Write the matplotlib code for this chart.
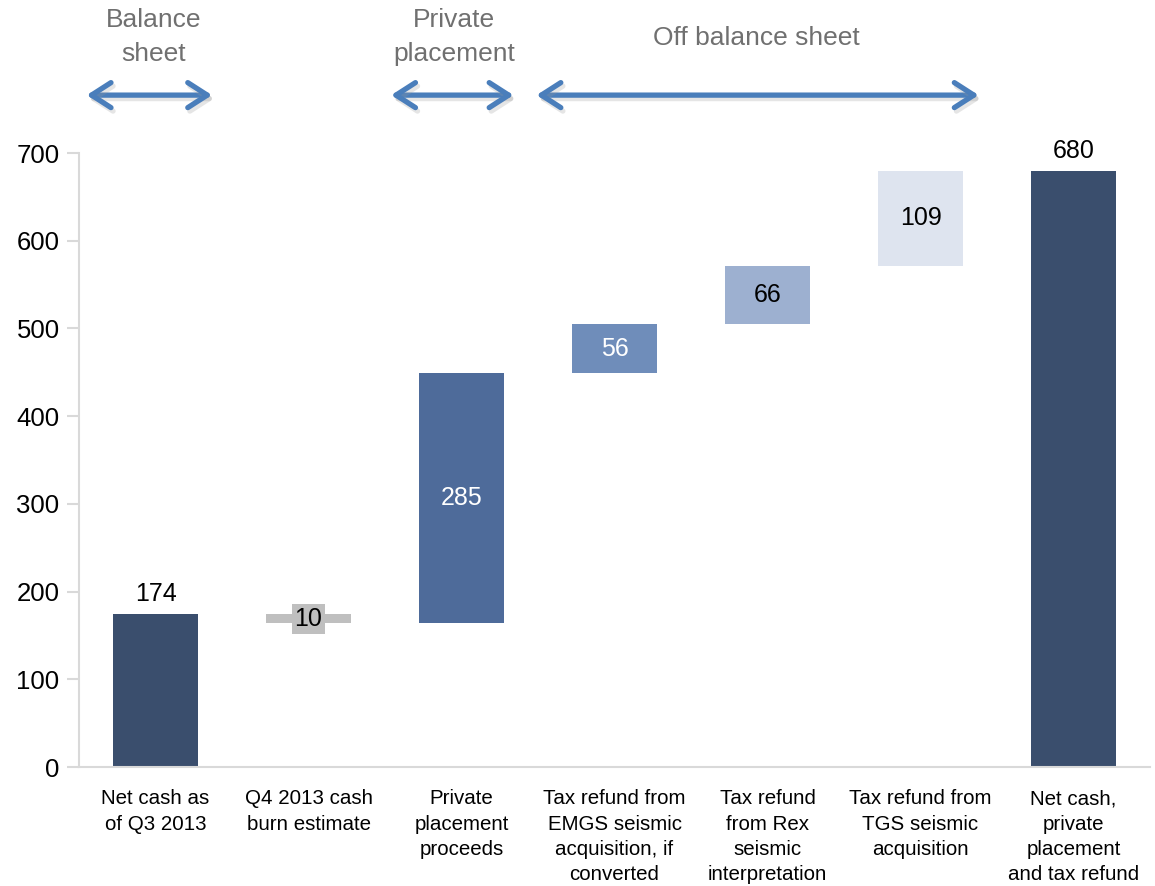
import matplotlib
matplotlib.use("Agg")
import matplotlib.pyplot as plt
import matplotlib.patheffects as pe
from matplotlib.patches import FancyArrowPatch

plt.rcParams["font.family"] = ["Liberation Sans", "DejaVu Sans"]

# ── waterfall data (NOK million) ──
categories = ["Net cash as\nof Q3 2013", "Q4 2013 cash\nburn estimate", "Private\nplacement\nproceeds",
              "Tax refund from\nEMGS seismic\nacquisition, if\nconverted",
              "Tax refund\nfrom Rex\nseismic\ninterpretation",
              "Tax refund from\nTGS seismic\nacquisition",
              "Net cash,\nprivate\nplacement\nand tax refund"]
steps = [174, -10, 285, 56, 66, 109, 680]
is_total = [True, False, False, False, False, False, True]
labels = ["174", "10", "285", "56", "66", "109", "680"]

colors = ["#3a4e6d", "#bfbfbf", "#4e6b9a", "#6f8dba", "#9db0d0", "#dee4ef", "#3a4e6d"]
label_colors = ["black", "black", "white", "white", "black", "black", "black"]

# section headers: (text, x centre, text y, arrow from, arrow to) in data units
sections = [("Balance\nsheet", -0.01, 832, -0.45, 0.37),
            ("Private\nplacement", 1.95, 832, 1.54, 2.34),
            ("Off balance sheet", 3.93, 831, 2.49, 5.38)]
arrow_y = 766

fig = plt.figure(figsize=(11.55, 8.86), dpi=100)
ax = fig.add_axes([0.0684, 0.1343, 0.9273, 0.6930])

# bottoms for the floating bars
bottoms, heights = [], []
running = 0
for v, tot in zip(steps, is_total):
    if tot:
        bottoms.append(0)
        heights.append(v)
        running = v
    elif v < 0:
        bottoms.append(running + v)
        heights.append(-v)
        running += v
    else:
        bottoms.append(running)
        heights.append(v)
        running += v

x = list(range(len(steps)))
ax.bar(x, heights, bottom=bottoms, width=0.55, color=colors, edgecolor="none", zorder=2)

for i in x:
    if is_total[i]:
        ax.text(i, bottoms[i] + heights[i] + 9, labels[i], ha="center", va="bottom",
                fontsize=18, color=label_colors[i], clip_on=False)
    elif i == 1:
        ax.text(i, bottoms[i] + heights[i] / 2, labels[i], ha="center", va="center",
                fontsize=18, color=label_colors[i], zorder=3,
                bbox=dict(boxstyle="square,pad=0.12", fc="#bfbfbf", ec="none"))
    else:
        ax.text(i, bottoms[i] + heights[i] / 2, labels[i], ha="center", va="center",
                fontsize=18, color=label_colors[i], zorder=3)

ax.set_xlim(-0.5, len(steps) - 0.5)
ax.set_ylim(0, 700)
ax.set_yticks(range(0, 701, 100))
ax.set_xticks(x)
ax.set_xticklabels(categories, fontsize=14.8, linespacing=1.42, va="top")
ax.tick_params(axis="x", length=0, pad=16)
ax.tick_params(axis="y", length=9, color="#d9d9d9", width=1.5, labelsize=18.5, pad=5)
for s in ("top", "right"):
    ax.spines[s].set_visible(False)
for s in ("left", "bottom"):
    ax.spines[s].set_color("#d9d9d9")
    ax.spines[s].set_linewidth(1.5)

# section headers with double arrows above the plot
for text, xc, yt, x0, x1 in sections:
    ax.text(xc, yt, text, ha="center", va="center", fontsize=19,
            color="#707070", linespacing=1.5, clip_on=False)
    arr = FancyArrowPatch((x0, arrow_y), (x1, arrow_y),
                          arrowstyle="<->,head_length=0.7,head_width=0.45",
                          mutation_scale=20, color="#4a7ebb", lw=3.8, clip_on=False,
                          shrinkA=0, shrinkB=0, joinstyle="round", capstyle="round",
                          path_effects=[pe.SimpleLineShadow(offset=(1.5, -2.5), shadow_color="#999999", alpha=0.25),
                                        pe.Normal()])
    ax.add_patch(arr)

fig.savefig("out.png", dpi=100)
